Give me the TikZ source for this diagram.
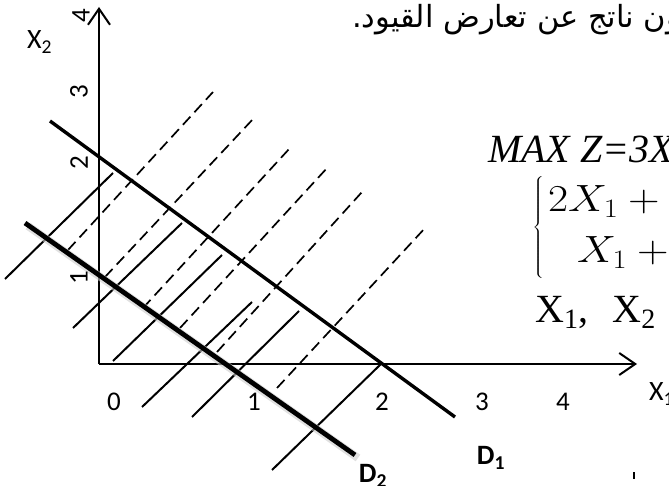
\RequirePackage{fix-cm}
\documentclass[tikz,border=0pt]{standalone}
\usepackage{graphicx}
\usepackage{fontspec}
\usetikzlibrary{arrows.meta}
\TeXXeTstate=1
\newfontfamily\calfont{Carlito}
\newfontfamily\tnrfont{Liberation Serif}
\newfontfamily\arabicfont[Script=Arabic]{DejaVu Sans}
\begin{document}
\begin{tikzpicture}[x=1pt,y=-1pt,
  axis/.style={line width=2pt,-{Straight Barb[length=16pt,width=22pt]}},
  dline/.style={line width=3.4pt},
  dlinebold/.style={line width=4.8pt},
  hatch/.style={line width=2pt},
  dhatch/.style={line width=1.7pt,dash pattern=on 11pt off 6pt},
  ticklab/.style={font=\calfont\fontsize{27}{27}\selectfont,inner sep=0pt},
  yticklab/.style={ticklab,rotate=90},
  dlab/.style={font=\calfont\bfseries\fontsize{28}{28}\selectfont,inner sep=0pt},
  axlab/.style={font=\calfont\fontsize{28}{28}\selectfont,inner sep=0pt},
  mathline/.style={anchor=base west,inner sep=0pt,font=\fontsize{38}{38}\selectfont}]
\useasboundingbox (0,0) rectangle (669,486);
\clip (0,0) rectangle (669,486);
% axes
\coordinate (O) at (99,364);
\coordinate (Xend) at (637,364);
\coordinate (Yend) at (99,7);
\draw[axis] (O) -- (Xend);
\draw[axis] (O) -- (Yend);
% solid hatching
\draw[hatch] (5,279) -- (113,173);
\draw[hatch] (73,328) -- (182,223);
\draw[hatch] (113,361) -- (222,255);
\draw[hatch] (142,407) -- (252,302);
\draw[hatch] (192,417) -- (299,311);
\draw[hatch] (272,470) -- (382,363);
% dashed hatching
\draw[dhatch] (68,250) -- (213,92);
\draw[dhatch] (105,277) -- (254,118);
\draw[dhatch] (143,308) -- (290,148);
\draw[dhatch] (180,328) -- (328,167);
\draw[dhatch] (217,352) -- (362,192);
\draw[dhatch] (277,388) -- (426,227);
% D1 and D2
\coordinate (D1a) at (50,121);
\coordinate (D1b) at (455,417);
\coordinate (D2a) at (25,223);
\coordinate (D2b) at (355,455);
\draw[dline] (D1a) -- (D1b);
\draw[line width=8pt,black!20,opacity=0.6] ([shift={(3,3)}]D2a) -- ([shift={(3,3)}]D2b);
\draw[dlinebold] (D2a) -- (D2b);
% tick labels
\node[yticklab] (y4) at (81,16) {4};
\node[yticklab] (y3) at (79,92) {3};
\node[yticklab] (y2) at (79,163) {2};
\node[yticklab] (y1) at (79,278) {1};
\node[ticklab] (x0) at (114,402) {0};
\node[ticklab] (x1) at (254,402) {1};
\node[ticklab] (x2) at (382,402) {2};
\node[ticklab] (x3) at (482,402) {3};
\node[ticklab] (x4) at (563,402) {4};
\node[axlab,anchor=west] (X1lab) at (649,394) {X\textsubscript{1}};
\node[axlab,anchor=west] (X2lab) at (27,42) {X\textsubscript{2}};
\node[dlab] (D1lab) at (491,458) {D\textsubscript{1}};
\node[dlab] (D2lab) at (373,476) {D\textsubscript{2}};
% texts
\node[anchor=base west,inner sep=0pt,font=\arabicfont\fontsize{30.5}{30.5}\selectfont] (note) at (352,28) {\beginR يكون ناتج عن تعارض القيود.\endR};
\node[anchor=base west,inner sep=0pt,font=\tnrfont\itshape\fontsize{40}{40}\selectfont] (obj) at (488,163) {MAX Z=3X\textsubscript{1}+2X\textsubscript{2}};
\node[inner sep=0pt,font=\fontsize{38}{38}\selectfont] (brace) at (539,227.5) {\scalebox{1.3}[1]{$\left\{\vrule height 42pt depth 42pt width 0pt\right.$}};
\node[mathline] (c1) at (548,212) {\scalebox{1.15}[1]{$2X_1+2X_2\le 4$}};
\node[mathline] (c2) at (577,263) {\scalebox{1.15}[1]{$X_1+X_2\ge 3$}};
\node[anchor=base west,inner sep=0pt,font=\tnrfont\fontsize{40}{40}\selectfont] (nonneg) at (535,322) {X\textsubscript{1},\hspace{24pt}X\textsubscript{2}};
\draw[line width=1.5pt] (634,472) -- (634,479);
\end{tikzpicture}
\end{document}
